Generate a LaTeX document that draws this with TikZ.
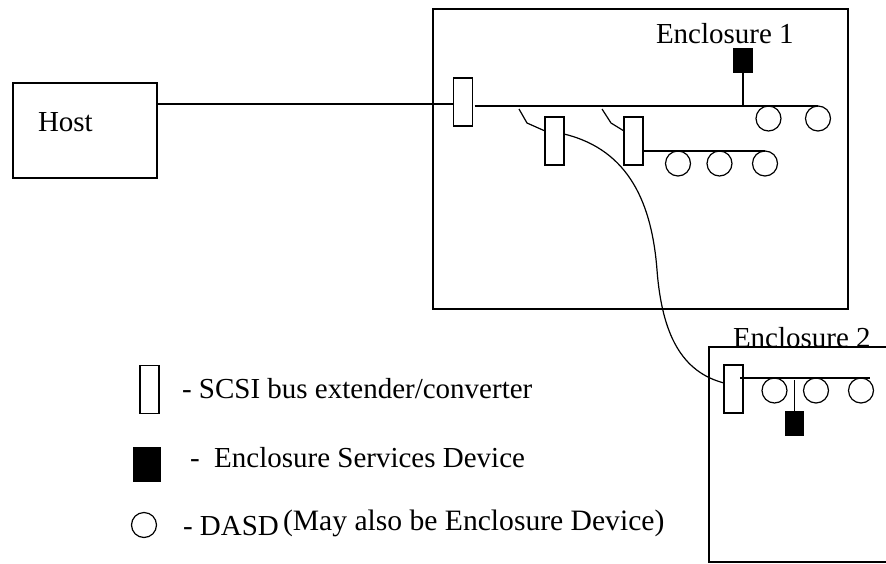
\documentclass[tikz,border=0pt]{standalone}
\usepackage{fontspec}
\setmainfont{Liberation Serif}
\begin{document}
\begin{tikzpicture}[x=1pt,y=-1pt,line width=1.2pt,
  every node/.style={outer sep=0pt,inner sep=0pt},
  lbl/.style={font=\fontsize{29}{34}\selectfont,anchor=base west},
  ext/.style={draw,rectangle,minimum width=19pt,minimum height=48pt},
  esd/.style={draw,fill=black,rectangle},
  dasd/.style={draw,circle,minimum size=25pt},
  encl/.style={draw,rectangle}]
\useasboundingbox (0,0) rectangle (886,563);
% boxes
\node[encl,minimum width=144pt,minimum height=95pt] (host) at (85,130.5) {};
\node[lbl] (hostlabel) at (38,131) {Host};
\node[encl,minimum width=415pt,minimum height=300pt] (enc1) at (640.5,159) {};
\node[lbl] (enc1label) at (656,43) {Enclosure 1};
\coordinate (e2tr) at (887,347);
\coordinate (e2tl) at (709,347);
\coordinate (e2bl) at (709,562);
\coordinate (e2br) at (887,562);
\draw (e2tr) -- (e2tl) -- (e2bl) -- (e2br);
\node[lbl] (enc2label) at (733,347) {Enclosure 2};
% extenders
\node[ext] (x1) at (463,102) {};
\node[ext] (x2) at (554.5,141) {};
\node[ext] (x3) at (633.5,141) {};
\node[ext] (x4) at (733.5,389) {};
% enclosure services devices
\node[esd,minimum width=18pt,minimum height=23pt] (esd1) at (743,60.5) {};
\node[esd,minimum width=17pt,minimum height=23pt] (esd2) at (794.5,423.5) {};
% DASDs
\node[dasd] (d1a) at (768.5,118.5) {};
\node[dasd] (d1b) at (818,118.5) {};
\node[dasd] (d2a) at (678,163.5) {};
\node[dasd] (d2b) at (719.5,163.5) {};
\node[dasd] (d2c) at (765,163.5) {};
\node[dasd] (d3a) at (774.5,390.5) {};
\node[dasd] (d3b) at (816,390.5) {};
\node[dasd] (d3c) at (861,390.5) {};
% host link
\draw (host.east |- 0,104) -- (x1.west |- 0,104);
% bus in enclosure 1
\draw ([xshift=2pt]x1.east |- d1b.north) -- (d1b.north);
\draw (esd1.south) -- (esd1.south |- d1b.north);
% stubs to the other extenders
\coordinate (s1a) at (519,109);
\coordinate (s1b) at (527,123);
\coordinate (s2a) at (602,109);
\coordinate (s2b) at (611,123);
\draw (s1a) -- (s1b) -- (x2.west |- 0,131);
\draw (s2a) -- (s2b) -- (x3.west |- 0,131);
% second bus
\draw (x3.east |- d2c.north) -- (d2c.north);
% cable to enclosure 2
\coordinate (cm) at (657,270);
\draw (x2.east |- 0,134) .. controls (630,150) and (652,205) .. (cm)
      .. controls (662,335) and (682,372) .. (x4.west |- 0,383);
% bus in enclosure 2
\coordinate (bus3end) at (870,378);
\draw ([xshift=-3pt]x4.east |- bus3end) -- (bus3end);
\draw (esd2.north) -- (esd2.north |- 0,380);
% legend
\node[ext] (lx) at (149.5,389.5) {};
\node[lbl] (lxt) at (182,398) {- SCSI bus extender/converter};
\node[esd,minimum width=26pt,minimum height=33pt] (lesd) at (147,464.5) {};
\node[lbl] (lesdt) at (190,467) {-\ \ Enclosure Services Device};
\node[dasd] (ld) at (144,525) {};
\node[lbl] (ldt) at (183,535) {- DASD};
\node[lbl,font=\fontsize{29.6}{34}\selectfont] (ldt2) at (283,530) {(May also be Enclosure Device)};
\end{tikzpicture}
\end{document}
